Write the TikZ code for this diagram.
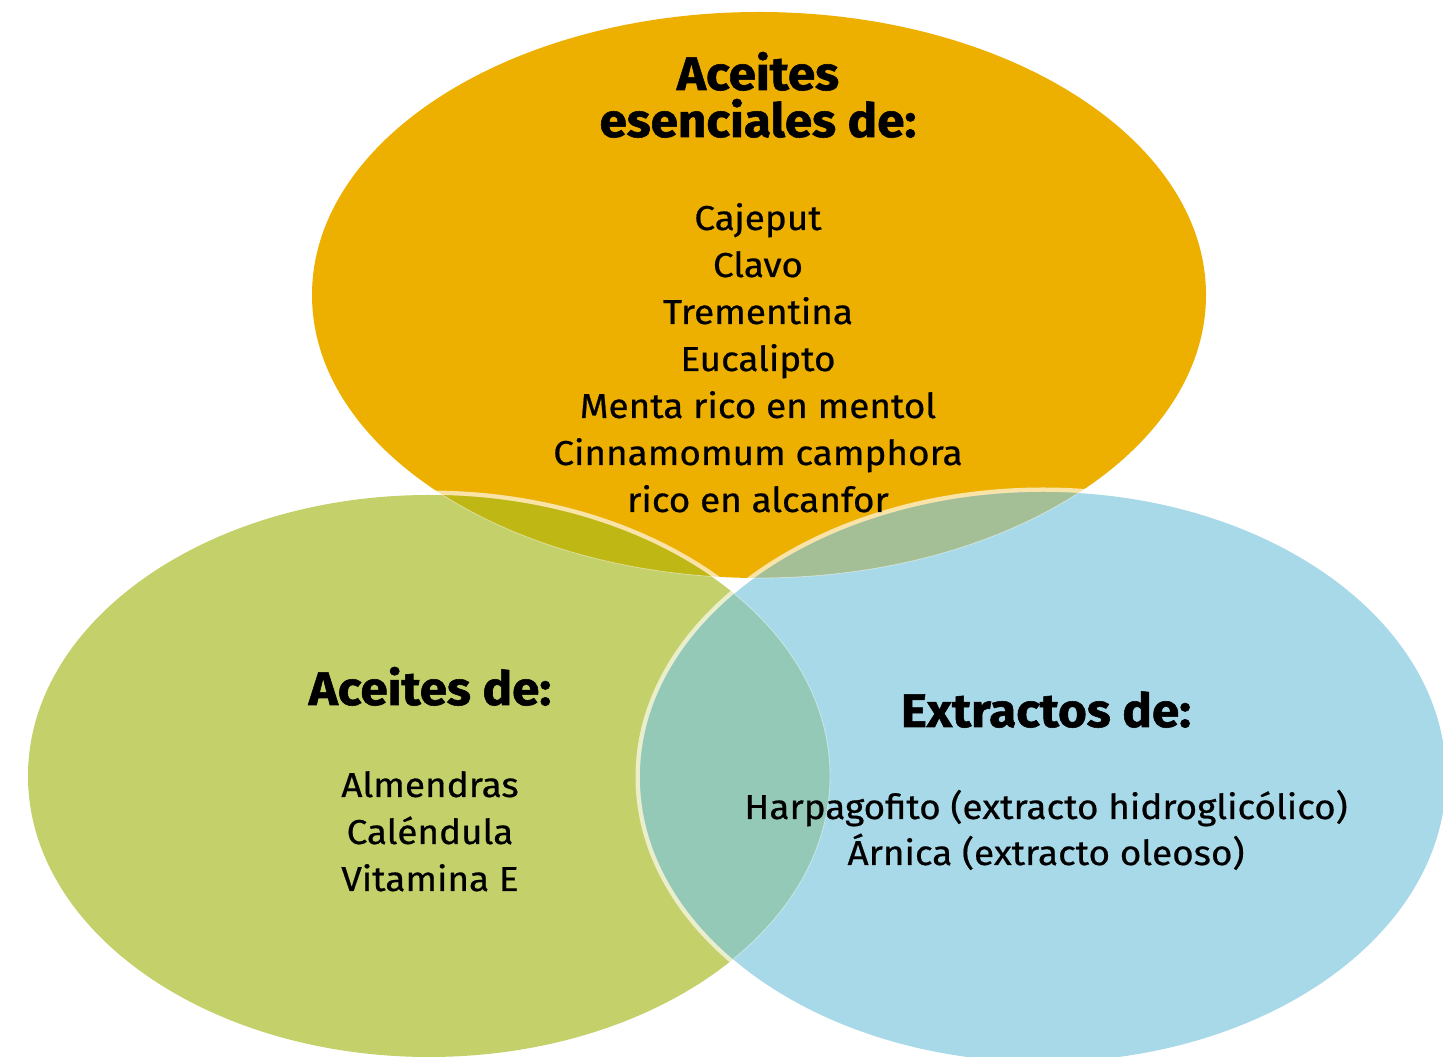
\documentclass[tikz,border=0pt]{standalone}
\usepackage{fontspec}
\setmainfont[FakeStretch=1.07,FakeBold=0.6]{Fira Sans}
\newfontfamily\headfont[FakeStretch=1.05,FakeBold=1.2]{Fira Sans}
\usetikzlibrary{shapes.geometric}
\definecolor{cOrange}{RGB}{238,176,0}
\definecolor{cGreen}{RGB}{196,208,106}
\definecolor{cBlue}{RGB}{168,217,232}
\definecolor{cOlive}{RGB}{191,183,20}
\definecolor{cBO}{RGB}{164,190,150}
\definecolor{cGB}{RGB}{148,201,184}
\tikzset{
  rim/.style={draw=white, draw opacity=0.65, line width=9pt},
  hidden/.style={draw=white, draw opacity=0.45, line width=0.8pt},
  head/.style={font=\headfont\bfseries\fontsize{47}{47}\selectfont, anchor=base, inner sep=0pt, text=black},
  item/.style={font=\fontsize{34.5}{47}\selectfont, anchor=base, inner sep=0pt, text=black},
}
\begin{document}
\begin{tikzpicture}[x=1pt,y=1pt]
\useasboundingbox (0,0) rectangle (1443,1057);
\def\orangeE{(759,762) ellipse [x radius=447, y radius=283]}
\def\greenE{(429,281) ellipse [x radius=401, y radius=281]}
\def\blueE{(1043,280) ellipse [x radius=403, y radius=285]}
% orange
\fill[cOrange] \orangeE;
% green
\draw[rim] \greenE;
\fill[cGreen] \greenE;
\begin{scope}
  \clip \greenE;
  \fill[cOlive] \orangeE;
  \draw[hidden] \orangeE;
\end{scope}
% blue
\begin{scope}
  \clip (0,0) rectangle (1443,1057);
  \draw[rim] \blueE;
\end{scope}
\fill[cBlue] \blueE;
\begin{scope}
  \clip \blueE;
  \fill[cBO] \orangeE;
  \fill[cGB] \greenE;
  \draw[hidden] \orangeE;
  \draw[hidden] \greenE;
\end{scope}
% texts top
\node[head] (t1) at (758,967) {Aceites};
\node[head] (t2) at (758,920) {esenciales de:};
\node[item] (a1) at (758,827) {Cajeput};
\node[item] (a2) at (758,780) {Clavo};
\node[item] (a3) at (758,733) {Trementina};
\node[item] (a4) at (758,686) {Eucalipto};
\node[item] (a5) at (758,639) {Menta rico en mentol};
\node[item] (a6) at (758,592) {Cinnamomum camphora};
\node[item] (a7) at (758,545) {rico en alcanfor};
% left
\node[head] (l0) at (430,352) {Aceites de:};
\node[item] (l1) at (430,260) {Almendras};
\node[item] (l2) at (430,213) {Caléndula};
\node[item] (l3) at (430,166) {Vitamina E};
% right
\node[head] (r0) at (1046,330) {Extractos de:};
\node[item] (r1) at (1046,238) {Harpagofito (extracto hidroglicólico)};
\node[item] (r2) at (1046,192) {Árnica (extracto oleoso)};
\end{tikzpicture}
\end{document}
